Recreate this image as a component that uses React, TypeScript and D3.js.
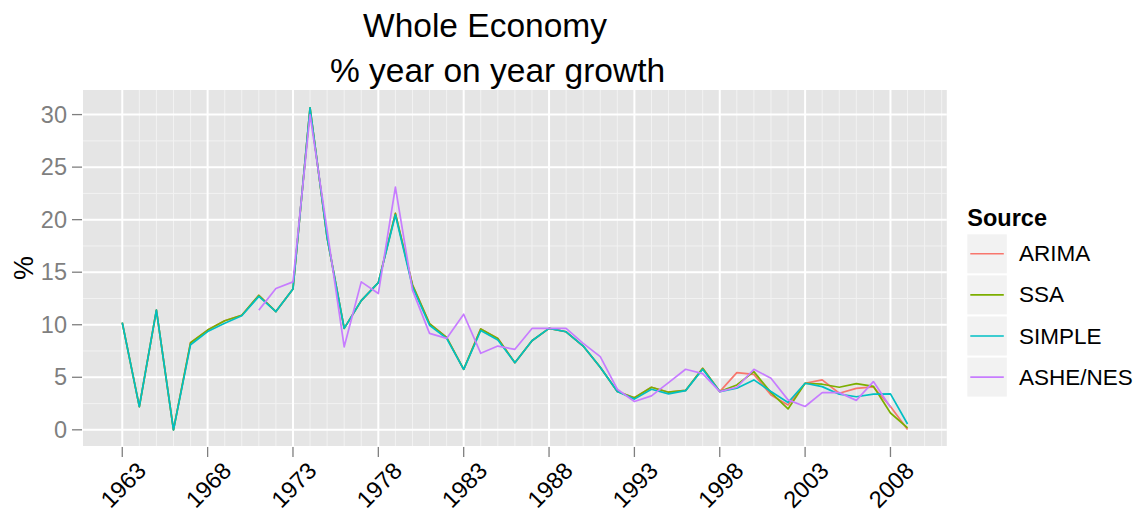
import React from "react";
import * as d3 from "d3";

const years: number[] = d3.range(1963, 2010);

const arima: number[] = [
  10.2, 2.2, 11.4, 0.0, 8.29, 9.49, 10.38, 10.9, 12.8, 11.25,
  13.4, 30.65, 18.3, 9.65, 12.3, 14.0, 20.6, 13.8, 10.1, 8.8,
  5.76, 9.6, 8.7, 6.39, 8.48, 9.65, 9.33, 7.97, 5.95, 3.64,
  3.05, 4.05, 3.58, 3.75, 5.85, 3.64, 5.44, 5.28, 3.32, 2.37,
  4.43, 4.75, 3.48, 3.95, 4.08, 2.22, 0.03,
];

const ssa: number[] = [
  10.2, 2.2, 11.4, 0.0, 8.29, 9.49, 10.38, 10.9, 12.8, 11.25,
  13.4, 30.65, 18.3, 9.65, 12.3, 14.0, 20.6, 13.8, 10.1, 8.8,
  5.76, 9.6, 8.7, 6.39, 8.48, 9.65, 9.33, 7.97, 5.95, 3.64,
  3.05, 4.05, 3.58, 3.75, 5.85, 3.64, 4.27, 5.54, 3.54, 1.99,
  4.43, 4.34, 4.05, 4.4, 4.14, 1.6, 0.18,
];

const simple: number[] = [
  10.2, 2.2, 11.4, 0.0, 8.1, 9.35, 10.15, 10.85, 12.7, 11.25,
  13.4, 30.65, 18.3, 9.65, 12.3, 14.0, 20.45, 13.6, 9.95, 8.7,
  5.76, 9.45, 8.55, 6.39, 8.48, 9.65, 9.33, 7.97, 5.95, 3.64,
  2.92, 3.86, 3.42, 3.73, 5.76, 3.64, 3.96, 4.75, 3.64, 2.6,
  4.43, 4.11, 3.39, 3.15, 3.39, 3.42, 0.55,
];

const asheYears: number[] = d3.range(1971, 2009);
const ashe: number[] = [
  11.39, 13.45, 14.08, 30.0, 19.0, 7.9, 14.08, 12.97, 23.1, 13.3,
  9.18, 8.7, 11.0, 7.28, 7.97, 7.66, 9.65, 9.65, 9.65, 8.23,
  6.96, 3.86, 2.69, 3.23, 4.49, 5.76, 5.35, 3.64, 4.05, 5.76,
  4.9, 2.85, 2.22, 3.54, 3.54, 2.8, 4.59, 2.15,
];

const seriesNames: string[] = ["ARIMA", "SSA", "SIMPLE", "ASHE/NES"];
const seriesColors: string[] = ["#F8766D", "#7CAE00", "#00BFC4", "#C77CFF"];

const yTicks: number[] = [0, 5, 10, 15, 20, 25, 30];
const yMinor: number[] = [2.5, 7.5, 12.5, 17.5, 22.5, 27.5];
const xTicks: number[] = d3.range(1963, 2009, 5);
const xMinor: number[] = d3.range(1963, 2012).filter((y) => (y - 1963) % 5 !== 0);

const titleLines: string[] = ["Whole Economy", "% year on year growth"];
const legendTitle = "Source";
const yTitle = "%";

const FONT = "'Liberation Sans', Arial, Helvetica, sans-serif";

export default function App() {
  const W = 1147;
  const H = 518;
  const pl = 83, pr = 946.8, pt = 90, pb = 446;

  const x = d3.scaleLinear().domain([1960.7, 2011.3]).range([pl, pr]);
  const y = d3.scaleLinear().domain([-1.54, 32.34]).range([pb, pt]);

  const line = d3
    .line<[number, number]>()
    .x((d) => x(d[0]))
    .y((d) => y(d[1]));

  const data: [number, number][][] = [
    years.map((yr, i) => [yr, arima[i]] as [number, number]),
    years.map((yr, i) => [yr, ssa[i]] as [number, number]),
    years.map((yr, i) => [yr, simple[i]] as [number, number]),
    asheYears.map((yr, i) => [yr, ashe[i]] as [number, number]),
  ];

  const legX = 967.3;
  const legY0 = 234.3;
  const keyH = 39;
  const keyStep = 41.1;

  return (
    <svg
      width={W}
      height={H}
      style={{ position: "absolute", left: 0, top: 0, background: "#fff" }}
      fontFamily={FONT}
    >
      <rect x={0} y={0} width={W} height={H} fill="#fff" />
      {/* titles */}
      <text x={485} y={37} fontSize={33.5} textAnchor="middle" fill="#000">
        {titleLines[0]}
      </text>
      <text x={497.5} y={82} fontSize={33.5} textAnchor="middle" fill="#000">
        {titleLines[1]}
      </text>

      {/* panel */}
      <rect x={pl} y={pt} width={pr - pl} height={pb - pt} fill="#E5E5E5" />
      {yMinor.map((v) => (
        <line key={"ym" + v} x1={pl} x2={pr} y1={y(v)} y2={y(v)} stroke="#F2F2F2" strokeWidth={1} />
      ))}
      {xMinor.map((v) => (
        <line key={"xm" + v} x1={x(v)} x2={x(v)} y1={pt} y2={pb} stroke="#F2F2F2" strokeWidth={1} />
      ))}
      {yTicks.map((v) => (
        <line key={"yM" + v} x1={pl} x2={pr} y1={y(v)} y2={y(v)} stroke="#FFFFFF" strokeWidth={2} />
      ))}
      {xTicks.map((v) => (
        <line key={"xM" + v} x1={x(v)} x2={x(v)} y1={pt} y2={pb} stroke="#FFFFFF" strokeWidth={2} />
      ))}

      {/* lines */}
      {data.map((d, i) => (
        <path
          key={seriesNames[i]}
          d={line(d) || ""}
          fill="none"
          stroke={seriesColors[i]}
          strokeWidth={1.7}
          strokeLinejoin="round"
        />
      ))}

      {/* y axis */}
      {yTicks.map((v) => (
        <g key={"yt" + v}>
          <line x1={pl - 11} x2={pl - 1} y1={y(v)} y2={y(v)} stroke="#7F7F7F" strokeWidth={1.3} />
          <text
            x={pl - 16}
            y={y(v)}
            fontSize={23.5}
            textAnchor="end"
            dominantBaseline="central"
            fill="#7F7F7F"
          >
            {v}
          </text>
        </g>
      ))}
      <text
        transform={`translate(24,${(pt + pb) / 2}) rotate(-90)`}
        fontSize={27}
        textAnchor="middle"
        dominantBaseline="central"
        fill="#000"
      >
        {yTitle}
      </text>

      {/* x axis */}
      {xTicks.map((v) => (
        <g key={"xt" + v}>
          <line x1={x(v)} x2={x(v)} y1={pb + 1} y2={pb + 11} stroke="#7F7F7F" strokeWidth={1.3} />
          <text
            transform={`translate(${x(v) + 1},485) rotate(-45)`}
            fontSize={23.5}
            textAnchor="middle"
            dominantBaseline="central"
            fill="#000"
          >
            {v}
          </text>
        </g>
      ))}

      {/* legend */}
      <text x={legX} y={226} fontSize={23.5} fontWeight="bold" fill="#000">
        {legendTitle}
      </text>
      {seriesNames.map((s, i) => {
        const ky = legY0 + i * keyStep;
        return (
          <g key={"leg" + s}>
            <rect x={legX} y={ky} width={39.5} height={keyH} fill="#F2F2F2" />
            <line
              x1={legX + 3}
              x2={legX + 36.5}
              y1={ky + keyH / 2}
              y2={ky + keyH / 2}
              stroke={seriesColors[i]}
              strokeWidth={1.6}
            />
            <text
              x={1019}
              y={ky + keyH / 2}
              fontSize={22.5}
              dominantBaseline="central"
              fill="#000"
            >
              {s}
            </text>
          </g>
        );
      })}
    </svg>
  );
}
